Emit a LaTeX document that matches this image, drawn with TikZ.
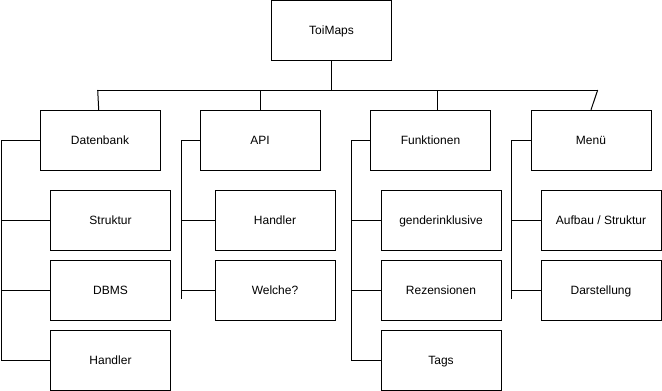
\documentclass[tikz,border=0pt]{standalone}
\usepackage{fontspec}
\setmainfont{Liberation Sans}
\begin{document}
\begin{tikzpicture}[x=1pt,y=-1pt,
  box/.style={draw=black,line width=1pt,minimum width=120pt,minimum height=60pt,
    inner sep=0pt,text height=8.6pt,text depth=0pt,font=\fontsize{12}{14}\selectfont},
  link/.style={draw=black,line width=1pt}]
\useasboundingbox (0,0) rectangle (662,391);

% root
\node[box] (toi) at (331.5,30.5) {ToiMaps};

% second level
\node[box] (dat) at (100,140.3) {Datenbank};
\node[box] (api) at (260,140.3) {API};
\node[box] (fun) at (430.5,140.3) {Funktionen};
\node[box] (men) at (591,140.3) {Menü};

% leaves
\node[box] (str) at (110.5,220.3) {Struktur};
\node[box] (dbm) at (110.5,290.3) {DBMS};
\node[box] (han) at (110.5,360.3) {Handler};

\node[box] (ahan) at (275,220.3) {Handler};
\node[box] (wel) at (275,290.3) {Welche?};

\node[box] (gen) at (441,220.3) {genderinklusive};
\node[box] (rez) at (441,290.3) {Rezensionen};
\node[box] (tag) at (441,360.3) {Tags};

\node[box] (auf) at (601,220.3) {Aufbau / Struktur};
\node[box] (dar) at (601,290.3) {Darstellung};

% bus below the root
\coordinate (busL) at (97.7,90);
\coordinate (busR) at (597.7,90);
\coordinate (busT) at (331.7,90);
\coordinate (busF) at (437.3,90);
\draw[link] (busL) -- (busR);
\draw[link] (toi.south -| busT) -- (busT);
\draw[link] (busL) -- ([xshift=-1.3pt]dat.north);
\draw[link] (api.north) -- (api.north |- busL);
\draw[link] (busF) -- (busF |- fun.north);
\draw[link] (busR) -- (men.north);

% Datenbank branch
\coordinate (dtop) at (1.5,140.3);
\draw[link] (dat.west) -- (dtop) -- (dtop |- han.west) -- (han.west);
\draw[link] (dtop |- str.west) -- (str.west);
\draw[link] (dtop |- dbm.west) -- (dbm.west);

% API branch
\coordinate (atop) at (181,140.3);
\coordinate (aend) at (181,299);
\draw[link] (api.west) -- (atop) -- (aend);
\draw[link] (atop |- ahan.west) -- (ahan.west);
\draw[link] (atop |- wel.west) -- (wel.west);

% Funktionen branch
\coordinate (ftop) at (351.3,140.3);
\draw[link] (fun.west) -- (ftop) -- (ftop |- tag.west) -- (tag.west);
\draw[link] (ftop |- gen.west) -- (gen.west);
\draw[link] (ftop |- rez.west) -- (rez.west);

% Menü branch
\coordinate (mtop) at (511.5,140.3);
\coordinate (mend) at (511.5,299);
\draw[link] (men.west) -- (mtop) -- (mend);
\draw[link] (mtop |- auf.west) -- (auf.west);
\draw[link] (mtop |- dar.west) -- (dar.west);
\end{tikzpicture}
\end{document}
